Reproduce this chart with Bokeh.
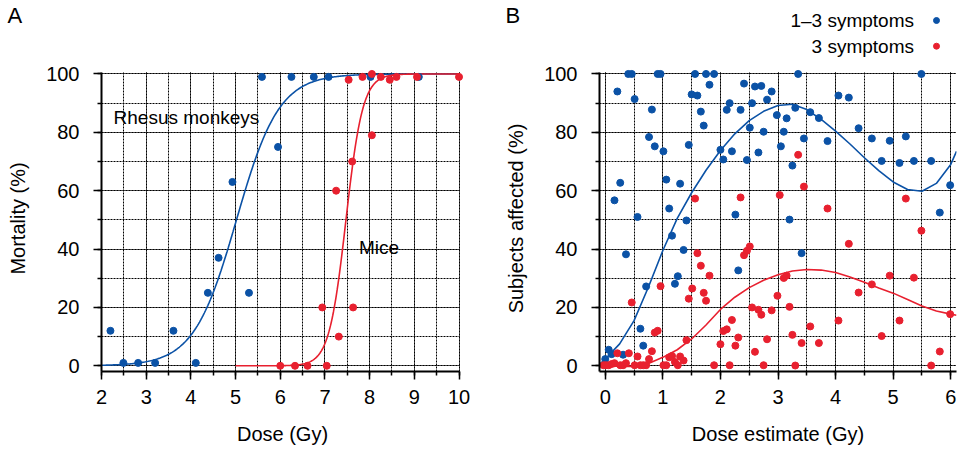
import numpy as np
from bokeh.plotting import figure
from bokeh.layouts import row, column
from bokeh.models import Range1d, SingleIntervalTicker, Label
from bokeh.core.properties import value
from bokeh.embed import file_html
from bokeh.resources import INLINE

BLUE = "#0b52a6"
RED = "#e8202f"
FONT = "Liberation Sans"

# ---------------- Panel A data ----------------
a_monkey_dose = [2.20, 2.49, 2.82, 3.20, 3.61, 4.11, 4.38, 4.62, 4.93, 5.30, 5.59, 5.95, 6.25, 6.75, 7.08, 8.02, 9.10]
a_monkey_mort = [12, 1, 1, 1, 12, 1, 25, 37, 63, 25, 99, 75, 99, 99, 99, 99, 99]
a_mice_dose = [6.00, 6.33, 6.61, 6.94, 7.04, 7.25, 7.31, 7.53, 7.61, 7.63, 7.84, 8.05, 8.05, 8.25, 8.45, 8.60, 9.06, 10.0]
a_mice_mort = [0, 0, 0, 20, 0, 60, 10, 98, 70, 20, 99, 100, 79, 99, 98, 99, 99, 99]
# fitted logistic curves (midpoint dose, slope)
monkey_fit = (5.02, 2.1)
mice_fit = (7.47, 5.3)
monkey_curve_range = (2.0, 10.0)
mice_curve_range = (5.0, 10.0)

# ---------------- Panel B data ----------------
b13_dose = [0.00, 0.06, 0.11, 0.31, 0.21, 0.16, 0.26, 0.36, 0.40, 0.46, 0.51, 0.56, 0.61, 0.66, 0.71,
            0.76, 0.81, 0.86, 0.91, 0.96, 1.01, 1.06, 1.11, 1.16, 1.21, 1.26, 1.30, 1.36, 1.41, 1.45,
            1.50, 1.56, 1.60, 1.66, 1.71, 1.75, 1.81, 1.89, 2.00, 2.05, 2.11, 2.16, 2.20, 2.26, 2.31,
            2.35, 2.41, 2.46, 2.51, 2.55, 2.60, 2.66, 2.71, 2.75, 2.81, 2.89, 2.98, 3.05, 3.10, 3.15,
            3.20, 3.25, 3.30, 3.35, 3.41, 3.45, 3.56, 3.71, 3.86, 4.05, 4.23, 4.40, 4.63, 4.80, 4.94,
            5.11, 5.22, 5.36, 5.49, 5.66, 5.81, 5.99]
b13_pct = [2.3, 5.5, 4.0, 3.8, 94.0, 56.7, 62.7, 38.2, 100, 100, 91.4, 51.0, 12.7, 6.9, 27.2,
           78.4, 87.8, 75.2, 100, 100, 73.5, 63.8, 53.9, 44.6, 28.1, 30.7, 62.4, 39.7, 49.8, 75.7,
           93.0, 100, 92.6, 87.1, 82.3, 100, 96.3, 100, 74.0, 70.7, 87.7, 90.0, 73.5, 51.8, 32.7,
           87.7, 96.7, 70.5, 81.6, 90.0, 95.7, 73.1, 95.9, 80.2, 91.2, 94.0, 85.9, 75.2, 80.2, 84.8,
           50.1, 68.6, 88.4, 100, 38.6, 77.9, 86.9, 84.9, 77.0, 92.6, 91.9, 81.4, 77.9, 70.2, 77.1,
           69.5, 78.6, 70.2, 100, 70.2, 52.5, 61.9]

b3_dose = [-0.03, 0.01, 0.06, 0.11, 0.16, 0.21, 0.26, 0.31, 0.36, 0.41, 0.46, 0.51, 0.56, 0.61, 0.66,
           0.71, 0.76, 0.81, 0.86, 0.91, 0.96, 1.01, 1.06, 1.11, 1.16, 1.21, 1.26, 1.30, 1.36, 1.41,
           1.45, 1.51, 1.56, 1.60, 1.66, 1.71, 1.75, 1.81, 1.89, 2.00, 2.05, 2.11, 2.16, 2.20, 2.26,
           2.31, 2.35, 2.41, 2.46, 2.51, 2.55, 2.60, 2.66, 2.71, 2.75, 2.81, 2.89, 2.99, 3.03, 3.10,
           3.15, 3.20, 3.25, 3.30, 3.35, 3.41, 3.45, 3.56, 3.71, 3.86, 4.05, 4.23, 4.40, 4.63, 4.80,
           4.94, 5.11, 5.22, 5.36, 5.49, 5.66, 5.81, 5.99]
b3_pct = [0.2, 0.2, 0.2, 0.6, 0.9, 4.3, 0.2, 0.2, 0.9, 4.3, 21.7, 0.2, 3.2, 0.2, 0.2,
          0.2, 2.3, 5.0, 11.4, 12.0, 27.3, 0.2, 0.2, 2.9, 3.4, 1.3, 0.2, 3.2, 1.8, 8.8,
          23.0, 26.5, 57.3, 38.6, 34.3, 25.0, 22.3, 30.9, 0.2, 7.4, 11.9, 12.5, 0.2, 15.7, 6.9,
          9.7, 57.7, 37.9, 39.4, 40.9, 20.0, 4.8, 19.2, 17.5, 0.2, 9.1, 19.0, 24.0, 58.5, 30.1,
          30.9, 20.2, 10.6, 0.1, 72.3, 7.8, 61.4, 13.5, 7.8, 53.9, 15.5, 41.8, 25.1, 27.9, 10.2,
          30.9, 15.5, 57.3, 30.2, 46.3, 0.1, 4.9, 17.7]

# smoothed trend curves
b_curve_dose = [-0.1, 0.0, 0.25, 0.5, 0.75, 1.0, 1.25, 1.5, 1.75, 2.0, 2.25, 2.5, 2.75, 3.0, 3.25,
                3.5, 3.75, 4.0, 4.25, 4.5, 4.75, 5.0, 5.25, 5.5, 5.75, 6.0, 6.1]
b13_curve = [0.5, 2.3, 7.5, 15.5, 27.0, 39.5, 50.5, 59.3, 67.0, 73.8, 79.5, 84.0, 87.2, 89.2, 89.6,
             87.8, 84.4, 80.4, 76.0, 71.3, 66.9, 63.0, 60.4, 59.8, 62.5, 69.0, 73.5]
b3_curve = [0.6, 0.2, -0.2, -0.2, 0.8, 2.9, 5.5, 9.2, 14.0, 19.3, 23.5, 26.8, 29.3, 31.2, 32.5,
            33.0, 32.8, 32.0, 30.4, 28.6, 26.7, 24.9, 22.7, 20.5, 18.8, 17.7, 17.3]

panel_letters = ["A", "B"]
legend_labels = ["1\u20133 symptoms", "3 symptoms"]
legend_colors = [BLUE, RED]

Y_LO, Y_AX_TOP, Y_TOP = -1.95, 100.55, 102.9
HEAD_H = 58


def style(p, xlabel, ylabel, xbounds):
    p.outline_line_color = None
    p.background_fill_color = "white"
    p.border_fill_color = "white"
    for ax in (p.xaxis[0], p.yaxis[0]):
        ax.axis_line_width = 2
        ax.axis_line_color = "black"
        ax.major_tick_line_width = 1.5
        ax.minor_tick_line_width = 1.5
        ax.major_tick_in = 0
        ax.minor_tick_in = 0
        ax.major_tick_out = 8
        ax.minor_tick_out = 4
        ax.major_label_text_font = FONT
        ax.major_label_text_font_size = "20px"
        ax.major_label_text_color = "black"
        ax.axis_label_text_font = FONT
        ax.axis_label_text_font_size = "20px"
        ax.axis_label_text_font_style = "normal"
        ax.axis_label_text_color = "black"
    p.xaxis[0].ticker = SingleIntervalTicker(interval=1, num_minor_ticks=2)
    p.yaxis[0].ticker = SingleIntervalTicker(interval=20, num_minor_ticks=2)
    p.xaxis[0].bounds = xbounds
    p.yaxis[0].bounds = (Y_LO, Y_AX_TOP)
    p.xaxis[0].axis_label = xlabel
    p.yaxis[0].axis_label = ylabel
    p.xaxis[0].major_label_standoff = 10
    p.yaxis[0].major_label_standoff = 14
    p.xaxis[0].axis_label_standoff = 16
    p.yaxis[0].axis_label_standoff = 14
    for g in (p.xgrid[0], p.ygrid[0]):
        g.grid_line_color = "black"
        g.grid_line_dash = "2 1"
        g.grid_line_width = 1
        g.minor_grid_line_color = "black"
        g.minor_grid_line_dash = "2 1"
        g.minor_grid_line_width = 1
    p.xgrid[0].cross_bounds = (Y_LO, 100.6)
    p.ygrid[0].cross_bounds = xbounds


# ---------------- header strip: panel letters and legend ----------------
head = figure(width=965, height=HEAD_H, output_backend="svg", toolbar_location=None,
              x_range=Range1d(0, 965), y_range=Range1d(HEAD_H, 0),
              x_axis_type=None, y_axis_type=None, min_border=0)
head.outline_line_color = None
head.grid.visible = False
head.text(x=[7, 505], y=[15, 15], text=panel_letters, text_font=value(FONT), text_font_size="22px",
          text_baseline="middle", text_align="left", text_color="black")
head.text(x=[913.5, 913.5], y=[20, 45.7], text=legend_labels, text_font=value(FONT),
          text_font_size="19px", text_baseline="middle", text_align="right", text_color="black")
head.scatter(x=[936, 936], y=[20, 45.7], size=6, color=legend_colors)

# ---------------- Panel A ----------------
pa = figure(width=480, height=456 - HEAD_H, output_backend="svg", toolbar_location=None,
            x_range=Range1d(2, 10.1), y_range=Range1d(Y_LO, Y_TOP),
            min_border_left=101, min_border_right=17, min_border_top=7, min_border_bottom=85)
style(pa, "Dose (Gy)", "Mortality (%)", (2, 10))

xm = np.linspace(*monkey_curve_range, 300)
pa.line(xm, 100 / (1 + np.exp(-monkey_fit[1] * (xm - monkey_fit[0]))), line_color=BLUE, line_width=1.6)
xr = np.linspace(*mice_curve_range, 300)
pa.line(xr, 100 / (1 + np.exp(-mice_fit[1] * (xr - mice_fit[0]))), line_color=RED, line_width=1.6)
pa.scatter(a_monkey_dose, a_monkey_mort, size=7, color=BLUE)
pa.scatter(a_mice_dose, a_mice_mort, size=7, color=RED)

pa.add_layout(Label(x=2.27, y=85, text="Rhesus monkeys", text_font=FONT, text_font_size="19px",
                    text_baseline="middle", text_color="black"))
pa.add_layout(Label(x=7.76, y=40.5, text="Mice", text_font=FONT, text_font_size="19px",
                    text_baseline="middle", text_color="black"))

# ---------------- Panel B ----------------
pb = figure(width=485, height=456 - HEAD_H, output_backend="svg", toolbar_location=None,
            x_range=Range1d(-0.1, 6.1), y_range=Range1d(Y_LO, Y_TOP),
            min_border_left=119, min_border_right=9, min_border_top=7, min_border_bottom=85)
style(pb, "Dose estimate (Gy)", "Subjects affected (%)", (-0.1, 6.1))

pb.line(b_curve_dose, b13_curve, line_color=BLUE, line_width=1.6)
pb.line(b_curve_dose, b3_curve, line_color=RED, line_width=1.6)
pb.scatter(b13_dose, b13_pct, size=7, color=BLUE)
pb.scatter(b3_dose, b3_pct, size=7, color=RED)

layout = column(head, row(pa, pb))
open("out.html", "w").write(file_html(layout, INLINE))
